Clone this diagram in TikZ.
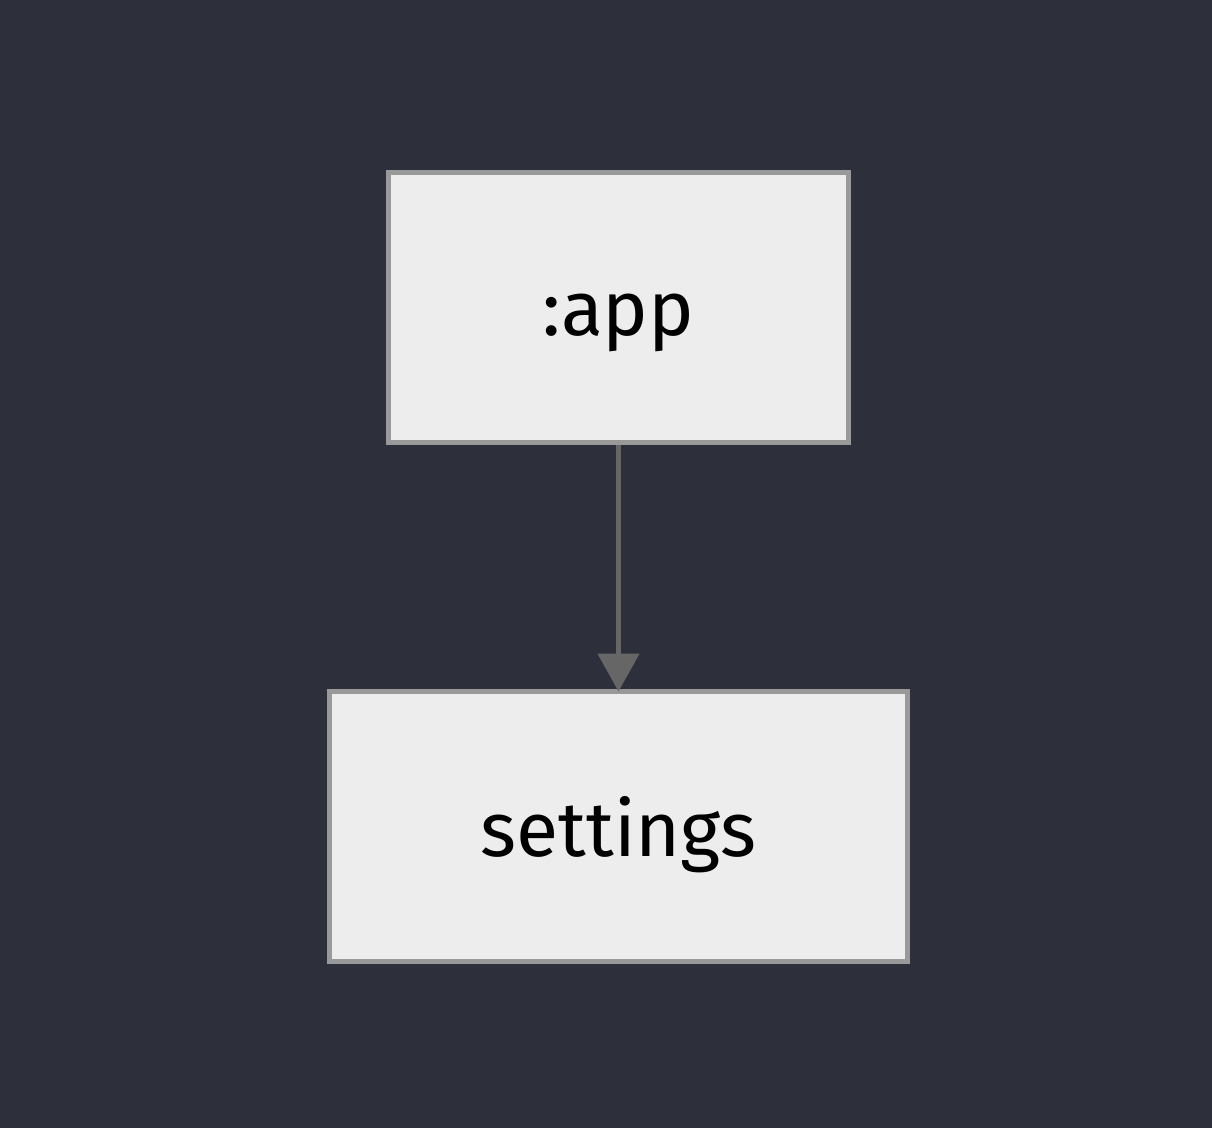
\documentclass[tikz,border=0pt]{standalone}
\usepackage{fontspec}
\setmainfont{Fira Sans}
\usetikzlibrary{arrows.meta}
\definecolor{bg}{HTML}{2D303B}
\definecolor{boxfill}{HTML}{EDEDED}
\definecolor{boxline}{HTML}{999999}
\definecolor{edge}{HTML}{666666}
\begin{document}
\begin{tikzpicture}[x=1pt,y=-1pt,
  boxnode/.style={draw=boxline,fill=boxfill,line width=5pt,inner sep=0pt},
  labelnode/.style={anchor=base,inner sep=0pt,font=\fontsize{77}{84}\selectfont,text=black},
  edgeline/.style={draw=edge,line width=5pt,-{Triangle[length=38pt,width=41pt]}}]
\fill[bg] (0,0) rectangle (1212,1128);
\useasboundingbox (0,0) rectangle (1212,1128);
\node[boxnode,minimum width=460pt,minimum height=270pt] (app) at (618.5,307.5) {};
\node[boxnode,minimum width=578pt,minimum height=270pt] (settings) at (618.5,826.5) {};
\node[labelnode] (applabel) at (618.5,335) {:app};
\node[labelnode] (settingslabel) at (618.5,856) {settings};
\draw[edgeline] (app.south) -- ([yshift=-2.5pt]settings.north);
\end{tikzpicture}
\end{document}
